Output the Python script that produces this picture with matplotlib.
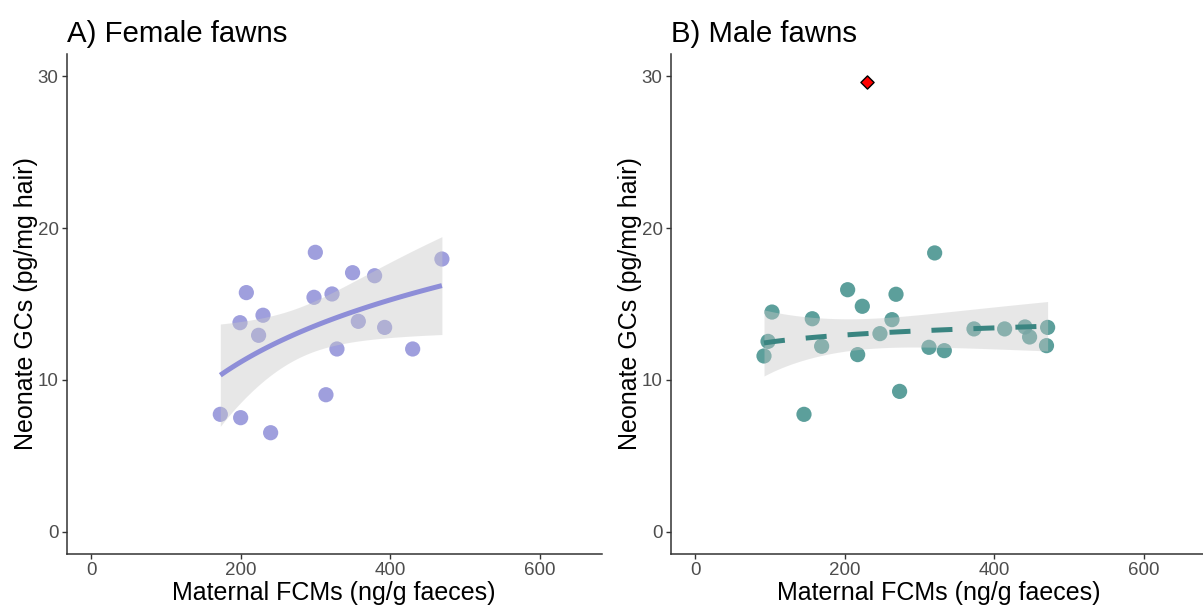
"""
Neonate GCs vs maternal FCMs, female and male fawns (log-x linear fit with 95% CI).
"""
import numpy as np
import matplotlib; matplotlib.use('Agg')
import matplotlib.pyplot as plt

plt.rcParams['font.family'] = ['Liberation Sans', 'DejaVu Sans']

# female fawns
fem_fcm = np.array([172.6, 198.9, 199.8, 207.4, 223.8, 229.7, 239.9, 297.9, 299.7,
                    313.9, 322.0, 328.6, 349.5, 357.2, 379.0, 392.4, 429.9, 469.0])
fem_gc = np.array([7.74, 13.77, 7.52, 15.75, 12.94, 14.26, 6.53, 15.44, 18.40,
                   9.03, 15.66, 12.04, 17.06, 13.86, 16.86, 13.46, 12.04, 17.96])

# male fawns (outlier kept apart, not in the fit)
male_fcm = np.array([91.9, 97.3, 102.6, 145.4, 156.5, 169.0, 203.8, 217.2, 223.4, 247.0, 263.1,
                     268.5, 273.3, 312.6, 320.2, 333.1, 372.8, 413.8, 441.0, 447.2, 469.8, 471.3])
male_gc = np.array([11.58, 12.54, 14.47, 7.74, 14.03, 12.22, 15.94, 11.67, 14.85, 13.05, 13.97,
                    15.64, 9.25, 12.15, 18.36, 11.93, 13.36, 13.36, 13.49, 12.83, 12.26, 13.46])
out_fcm, out_gc = [229.2], [29.58]

t975 = {16: 2.120, 20: 2.086}

def log_fit(x, y):
    X = np.column_stack([np.ones_like(x), np.log(x)])
    beta, *_ = np.linalg.lstsq(X, y, rcond=None)
    df = len(x) - 2
    s2 = np.sum((y - X @ beta)**2) / df
    cov = s2 * np.linalg.inv(X.T @ X)
    g = np.linspace(x.min(), x.max(), 100)
    G = np.column_stack([np.ones_like(g), np.log(g)])
    pred = G @ beta
    se = np.sqrt(np.einsum('ij,jk,ik->i', G, cov, G))
    return g, pred, pred - t975[df]*se, pred + t975[df]*se

W, H = 1203, 605
fig = plt.figure(figsize=(W/100, H/100), dpi=100)
aw = 534.5 / W
ax1 = fig.add_axes([67/W, 1 - 554/H, aw, 500/H])
ax2 = fig.add_axes([671/W, 1 - 554/H, aw, 500/H])

panels = [
    (ax1, fem_fcm, fem_gc, '#8e8ed8', '#8e8ed8', '-', 'A) Female fawns'),
    (ax2, male_fcm, male_gc, '#3f8e8a', '#3a8581', '--', 'B) Male fawns'),
]
for ax, x, y, pc, lc, ls, title in panels:
    ax.scatter(x, y, s=120, color=pc, alpha=0.85, edgecolors='none', zorder=2)
    g, p, lo, hi = log_fit(x, y)
    ax.fill_between(g, lo, hi, color='#c8c8c8', alpha=0.42, lw=0, zorder=3)
    ln, = ax.plot(g, p, color=lc, lw=3.6, ls=ls, zorder=4, solid_capstyle='butt')
    if ls == '--':
        ln.set_dashes((4.2, 4.2))
        ln.set_dash_capstyle('butt')
    ax.set_xlim(-32.5, 682.5)
    ax.set_ylim(-1.45, 31.45)
    ax.set_xticks([0, 200, 400, 600])
    ax.set_yticks([0, 10, 20, 30])
    for side in ['top', 'right']:
        ax.spines[side].set_visible(False)
    for side in ['left', 'bottom']:
        ax.spines[side].set_color('#333333')
        ax.spines[side].set_linewidth(1.1)
    ax.tick_params(colors='#333333', labelcolor='#4d4d4d', labelsize=13.5, length=3.5, width=1.0, pad=2.5)
    ax.set_xlabel('Maternal FCMs (ng/g faeces)', fontsize=18, labelpad=1)
    ax.set_ylabel('Neonate GCs (pg/mg hair)', fontsize=18, labelpad=0)
    ax.set_title(title, loc='left', fontsize=21.2, pad=9)

ax2.scatter(out_fcm, out_gc, marker='D', s=45, color='red', edgecolors='black', linewidths=1.0, zorder=5)

fig.savefig('out.png', dpi=100)
